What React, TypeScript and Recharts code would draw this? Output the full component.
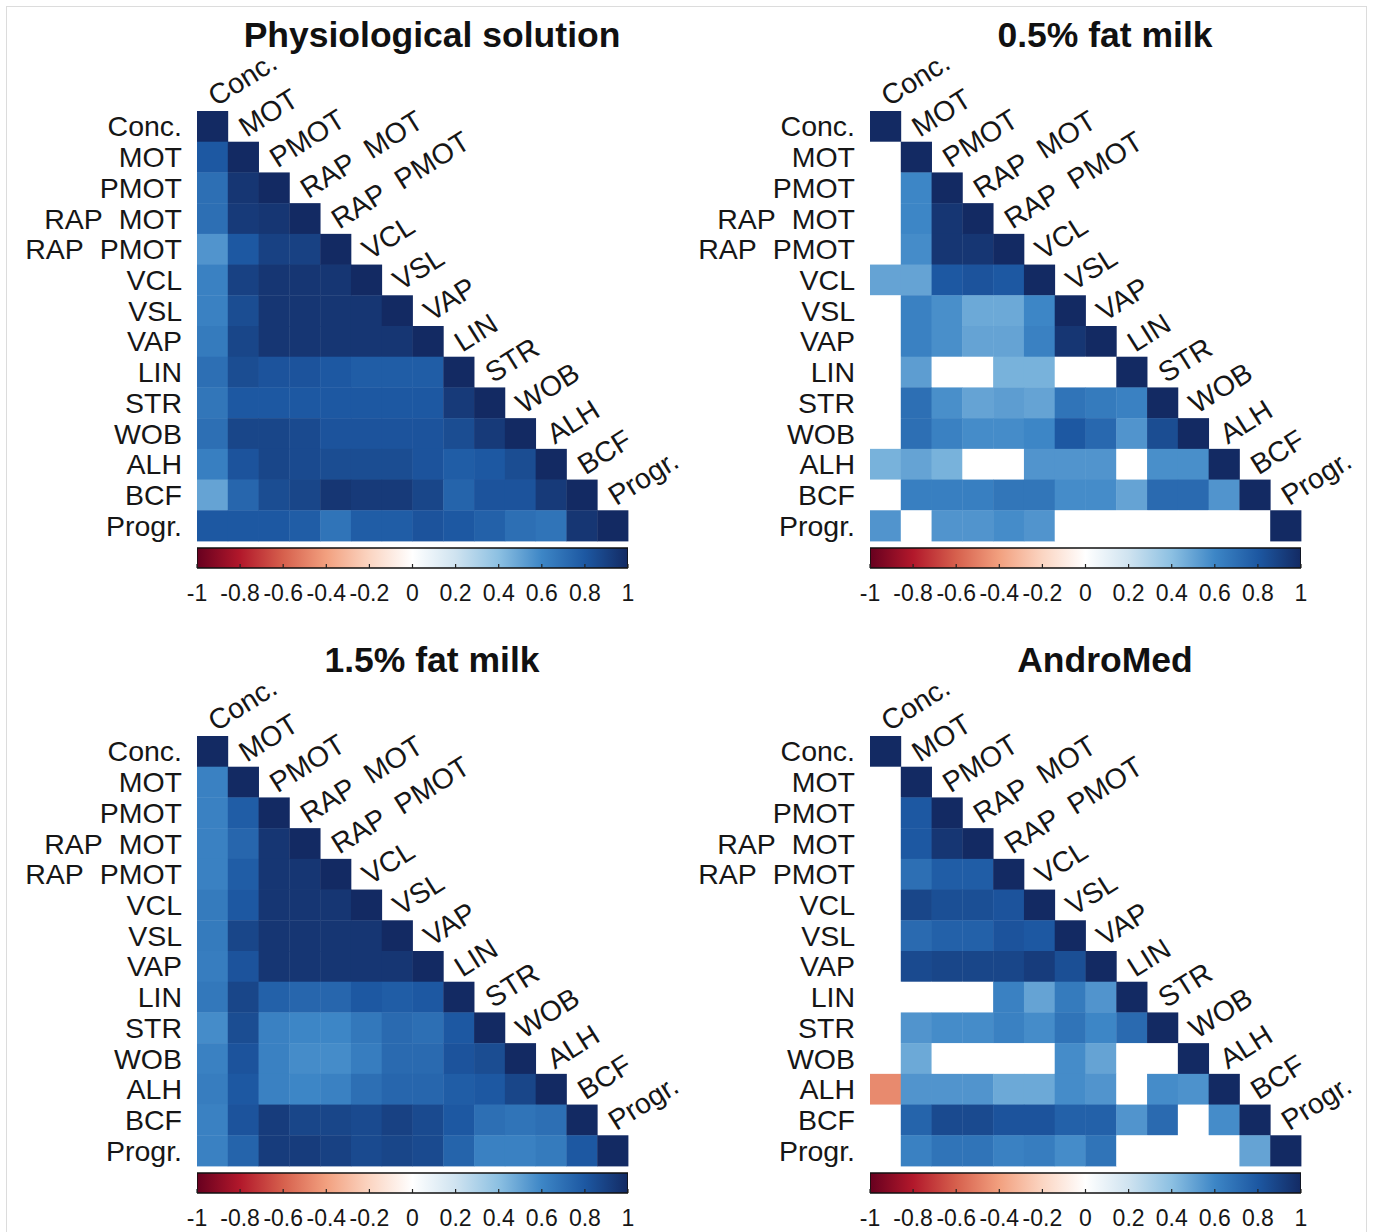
import React from "react";
import { ScatterChart, Scatter, BarChart, Bar, XAxis, YAxis } from "recharts";

const FONT = "'Liberation Sans', Arial, Helvetica, sans-serif";

const variables = [
  "Conc.",
  "MOT",
  "PMOT",
  "RAP\u00a0\u00a0MOT",
  "RAP\u00a0\u00a0PMOT",
  "VCL",
  "VSL",
  "VAP",
  "LIN",
  "STR",
  "WOB",
  "ALH",
  "BCF",
  "Progr.",
];

// lower triangle: row i holds r with columns 0..i-1 (the diagonal is 1)
const physiological = [
  [],
  [0.8],
  [0.7, 0.95],
  [0.7, 0.93, 0.95],
  [0.55, 0.8, 0.9, 0.9],
  [0.62, 0.9, 0.95, 0.95, 0.95],
  [0.62, 0.85, 0.95, 0.95, 0.95, 0.95],
  [0.65, 0.88, 0.95, 0.95, 0.95, 0.95, 0.95],
  [0.7, 0.85, 0.82, 0.82, 0.8, 0.78, 0.78, 0.78],
  [0.67, 0.8, 0.8, 0.8, 0.8, 0.8, 0.8, 0.8, 0.93],
  [0.7, 0.88, 0.88, 0.86, 0.82, 0.82, 0.82, 0.82, 0.85, 0.93],
  [0.63, 0.82, 0.88, 0.86, 0.85, 0.85, 0.85, 0.82, 0.78, 0.8, 0.85],
  [0.5, 0.74, 0.85, 0.88, 0.95, 0.93, 0.93, 0.88, 0.75, 0.82, 0.82, 0.93],
  [0.8, 0.8, 0.8, 0.78, 0.68, 0.78, 0.78, 0.82, 0.8, 0.76, 0.7, 0.68, 0.95],
];

const milk05 = [
  [],
  [0],
  [0, 0.6],
  [0, 0.6, 0.95],
  [0, 0.58, 0.95, 0.95],
  [0.5, 0.5, 0.8, 0.82, 0.8],
  [0, 0.62, 0.57, 0.48, 0.48, 0.6],
  [0, 0.62, 0.57, 0.5, 0.5, 0.62, 0.95],
  [0, 0.52, 0, 0, 0.45, 0.45, 0, 0],
  [0, 0.7, 0.57, 0.5, 0.52, 0.5, 0.68, 0.65, 0.62],
  [0, 0.7, 0.62, 0.58, 0.58, 0.6, 0.8, 0.73, 0.55, 0.85],
  [0.45, 0.5, 0.45, 0, 0, 0.55, 0.55, 0.55, 0, 0.57, 0.57],
  [0, 0.63, 0.63, 0.63, 0.67, 0.67, 0.58, 0.58, 0.5, 0.72, 0.72, 0.55],
  [0.55, 0, 0.55, 0.55, 0.58, 0.55, 0, 0, 0, 0, 0, 0, 0],
];

const milk15 = [
  [],
  [0.62],
  [0.62, 0.78],
  [0.62, 0.74, 0.95],
  [0.62, 0.78, 0.95, 0.95],
  [0.65, 0.8, 0.95, 0.95, 0.95],
  [0.65, 0.88, 0.95, 0.95, 0.95, 0.95],
  [0.64, 0.82, 0.95, 0.95, 0.95, 0.95, 0.95],
  [0.66, 0.88, 0.76, 0.74, 0.74, 0.8, 0.78, 0.8],
  [0.58, 0.85, 0.62, 0.6, 0.6, 0.66, 0.72, 0.7, 0.8],
  [0.62, 0.82, 0.62, 0.58, 0.58, 0.64, 0.72, 0.72, 0.82, 0.85],
  [0.64, 0.8, 0.62, 0.6, 0.62, 0.7, 0.74, 0.74, 0.78, 0.8, 0.88],
  [0.62, 0.82, 0.92, 0.88, 0.88, 0.86, 0.9, 0.86, 0.8, 0.7, 0.68, 0.7],
  [0.62, 0.75, 0.92, 0.92, 0.9, 0.86, 0.88, 0.86, 0.75, 0.62, 0.62, 0.65, 0.8],
];

const andromed = [
  [],
  [0],
  [0, 0.8],
  [0, 0.8, 0.95],
  [0, 0.7, 0.78, 0.78],
  [0, 0.88, 0.84, 0.84, 0.82],
  [0, 0.72, 0.76, 0.76, 0.82, 0.8],
  [0, 0.86, 0.88, 0.88, 0.88, 0.92, 0.84],
  [0, 0, 0, 0, 0.62, 0.5, 0.65, 0.55],
  [0, 0.55, 0.58, 0.58, 0.62, 0.58, 0.68, 0.6, 0.72],
  [0, 0.48, 0, 0, 0, 0, 0.58, 0.5, 0, 0],
  [-0.47, 0.55, 0.55, 0.55, 0.48, 0.48, 0.58, 0.55, 0, 0.58, 0.56],
  [0, 0.75, 0.86, 0.86, 0.82, 0.82, 0.76, 0.76, 0.55, 0.72, 0, 0.58],
  [0, 0.62, 0.68, 0.68, 0.62, 0.64, 0.58, 0.68, 0, 0, 0, 0, 0.5],
];

const cbTicks = [-1, -0.8, -0.6, -0.4, -0.2, 0, 0.2, 0.4, 0.6, 0.8, 1];
const cbTickLabels = ["-1", "-0.8", "-0.6", "-0.4", "-0.2", "0", "0.2", "0.4", "0.6", "0.8", "1"];
const cbRange = [{ name: "r", range: [-1, 1] }];

// red - white - blue map
const cmap: [number, string][] = [
  [-1, "#67001f"],
  [-0.8, "#b2182b"],
  [-0.6, "#d6604d"],
  [-0.4, "#f2a07f"],
  [-0.2, "#fbd5c2"],
  [0, "#ffffff"],
  [0.2, "#cfe3f0"],
  [0.4, "#8cc0e2"],
  [0.6, "#3d86c6"],
  [0.8, "#1d58a2"],
  [1, "#132a63"],
];

const hexRgb = (h: string) => [1, 3, 5].map((i) => parseInt(h.slice(i, i + 2), 16));

const corrColor = (v: number) => {
  const t = Math.max(-1, Math.min(1, v));
  for (let k = 0; k < cmap.length - 1; k++) {
    const [a, ca] = cmap[k];
    const [b, cb] = cmap[k + 1];
    if (t >= a && t <= b) {
      const f = (t - a) / (b - a);
      const A = hexRgb(ca);
      const B = hexRgb(cb);
      const c = A.map((x, i) => Math.round(x + (B[i] - x) * f));
      return `rgb(${c[0]},${c[1]},${c[2]})`;
    }
  }
  return "#ffffff";
};

const PLOT_W = 431;
const PLOT_H = 430;
const CELL_W = PLOT_W / 14;
const CELL_H = PLOT_H / 14;

const rowTicks = variables.map((_, i) => i + 0.5);

const toCells = (rows: number[][]) =>
  rows.flatMap((row, i) =>
    [...row, 1].map((v, j) => ({ x: j + 0.5, y: i + 0.5, v }))
  );

const diagLabels = variables.map((label, j) => ({ x: j, y: j, label }));

const renderCell = (p: any) => (
  <rect
    x={p.cx - CELL_W / 2}
    y={p.cy - CELL_H / 2}
    width={CELL_W + 0.4}
    height={CELL_H + 0.4}
    fill={corrColor(p.payload.v)}
  />
);

const renderDiagLabel = (p: any) => {
  const x = p.cx + 19;
  const y = p.cy - 4;
  return (
    <text
      x={x}
      y={y}
      transform={`rotate(-32 ${x} ${y})`}
      fontSize={28.5}
      fontFamily={FONT}
      fill="#161616"
    >
      {p.payload.label}
    </text>
  );
};

interface PanelProps {
  id: string;
  title: string;
  rows: number[][];
  left: number;
  top: number;
}

const Panel: React.FC<PanelProps> = ({ id, title, rows, left, top }) => {
  const cells = toCells(rows);
  return (
    <div style={{ position: "absolute", left, top, width: 720, height: 620 }}>
      <div
        style={{
          position: "absolute",
          left: 0,
          top: 18,
          width: 864,
          textAlign: "center",
          fontFamily: FONT,
          fontWeight: "bold",
          fontSize: 35.5,
          lineHeight: "34px",
          color: "#111",
          whiteSpace: "nowrap",
        }}
      >
        {title}
      </div>
      <div style={{ position: "absolute", left: 0, top: 0 }}>
        <ScatterChart
          width={720}
          height={545}
          margin={{ top: 111, right: 92, bottom: 4, left: 7 }}
        >
          <XAxis type="number" dataKey="x" domain={[0, 14]} hide />
          <YAxis
            type="number"
            dataKey="y"
            domain={[0, 14]}
            reversed
            ticks={rowTicks}
            interval={0}
            tickFormatter={(v: number) => variables[Math.floor(v)]}
            width={190}
            axisLine={false}
            tickLine={false}
            tickSize={0}
            tickMargin={15}
            tick={{ fontSize: 28.5, fill: "#161616", fontFamily: FONT }}
          />
          <Scatter data={cells} shape={renderCell} isAnimationActive={false} />
          <Scatter data={diagLabels} shape={renderDiagLabel} isAnimationActive={false} />
        </ScatterChart>
      </div>
      <div style={{ position: "absolute", left: 0, top: 540 }}>
        <BarChart
          layout="vertical"
          width={720}
          height={90}
          margin={{ top: 8, right: 92, bottom: 0, left: 197 }}
          data={cbRange}
          barCategoryGap={0}
        >
          <defs>
            <linearGradient id={`cb-${id}`} x1="0" y1="0" x2="1" y2="0">
              {cmap.map(([v, c]) => (
                <stop key={v} offset={`${((v + 1) / 2) * 100}%`} stopColor={c} />
              ))}
            </linearGradient>
          </defs>
          <Bar
            dataKey="range"
            fill={`url(#cb-${id})`}
            stroke="#111"
            strokeWidth={1.5}
            isAnimationActive={false}
          />
          <XAxis
            type="number"
            domain={[-1, 1]}
            ticks={cbTicks}
            interval={0}
            allowDataOverflow
            tickFormatter={(v: number) => cbTickLabels[cbTicks.indexOf(v)]}
            axisLine={false}
            tickLine={{ stroke: "#222", strokeWidth: 1.2 }}
            tickSize={-4}
            tickMargin={21}
            height={62}
            tick={{ fontSize: 23, fill: "#161616", fontFamily: FONT }}
          />
          <YAxis type="category" dataKey="name" hide />
        </BarChart>
      </div>
    </div>
  );
};

const App: React.FC = () => {
  return (
    <div
      style={{
        position: "absolute",
        left: 0,
        top: 0,
        width: 1373,
        height: 1232,
        background: "#fff",
        overflow: "hidden",
      }}
    >
      <div
        style={{
          position: "absolute",
          left: 6,
          top: 6,
          width: 1359,
          height: 1300,
          border: "1px solid #dcdcdc",
        }}
      />
      <Panel id="p1" title="Physiological solution" rows={physiological} left={0} top={0} />
      <Panel id="p2" title="0.5% fat milk" rows={milk05} left={673} top={0} />
      <Panel id="p3" title="1.5% fat milk" rows={milk15} left={0} top={625} />
      <Panel id="p4" title="AndroMed" rows={andromed} left={673} top={625} />
    </div>
  );
};

export default App;
